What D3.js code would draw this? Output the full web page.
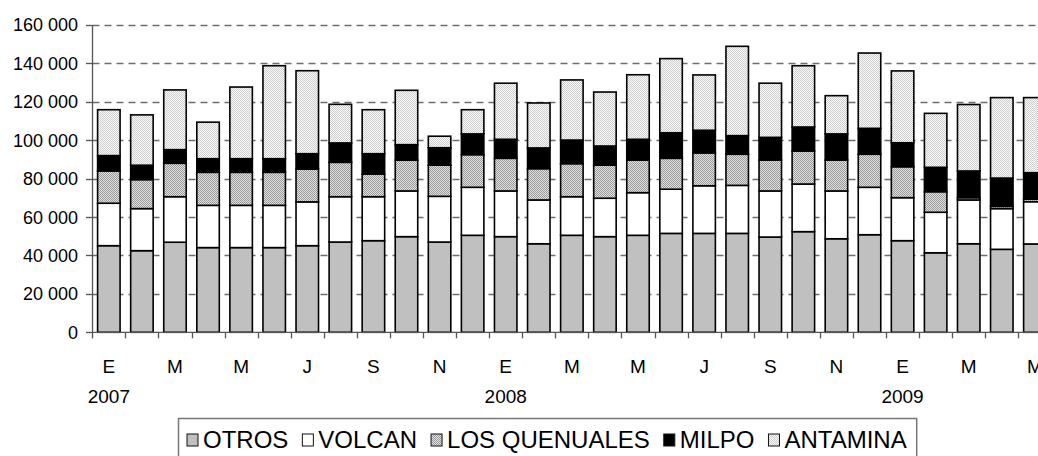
<!DOCTYPE html>
<html>
<head>
<meta charset="utf-8">
<script src="https://cdn.jsdelivr.net/npm/d3@7"></script>
<style>
  body { margin: 0; background: #fff; }
  svg { display: block; overflow: hidden; font-family: "Liberation Sans", Arial, sans-serif; }
</style>
</head>
<body>
<svg id="chart" width="1038" height="456"></svg>
<script>
// meses ene-2007 .. may-2009
const months = ['E','F','M','A','M','J','J','A','S','O','N','D',
                'E','F','M','A','M','J','J','A','S','O','N','D',
                'E','F','M','A','M'];
const years = [{ idx: 0, label: '2007' }, { idx: 12, label: '2008' }, { idx: 24, label: '2009' }];
const yTicks = [0, 20000, 40000, 60000, 80000, 100000, 120000, 140000, 160000];

const seriesNames = ['OTROS', 'VOLCAN', 'LOS QUENUALES', 'MILPO', 'ANTAMINA'];

const otros = [45100, 42500, 46900, 44100, 44100, 44100, 45100, 47000, 47700, 49800, 47000, 50500,
               49800, 46100, 50500, 49800, 50500, 51500, 51500, 51500, 49600, 52400, 48700, 50800,
               47700, 41400, 46100, 43200, 46000];
const volcan = [22100, 21900, 23700, 22000, 22000, 22000, 22800, 23600, 22900, 23800, 23800, 25000,
                23800, 22800, 20100, 20000, 22200, 23000, 24800, 25000, 24000, 24800, 24900, 24700,
                22400, 21100, 22800, 21200, 22000];
const quenuales = [16800, 15100, 17400, 17200, 17200, 17200, 17100, 17900, 11800, 16000, 16200, 17000,
                   17000, 16300, 17200, 17200, 17000, 16100, 17100, 16200, 16100, 17200, 16100, 17200,
                   16100, 10700, 1200, 1200, 1300];
const milpo = [8000, 7500, 7100, 7100, 7100, 7100, 8000, 10100, 10600, 8100, 9100, 10800,
               9900, 10800, 12300, 10000, 10800, 13300, 11800, 9700, 11800, 12500, 13600, 13500,
               12500, 12700, 13900, 14700, 13800];
const antamina = [23900, 26200, 31100, 19000, 37300, 48400, 43200, 20100, 22900, 28300, 6000, 12600,
                  29200, 23400, 31300, 28100, 33600, 38600, 28800, 46500, 28200, 31900, 19900, 39200,
                  37400, 28100, 34600, 41900, 39100];

const svg = d3.select('#chart');

// patrones de relleno
const defs = svg.append('defs');
function dotPattern(id, bg, fg) {
    const p = defs.append('pattern')
        .attr('id', id)
        .attr('patternUnits', 'userSpaceOnUse')
        .attr('width', 2).attr('height', 2);
    p.append('rect').attr('width', 2).attr('height', 2).attr('fill', bg);
    p.append('rect').attr('width', 1).attr('height', 1).attr('fill', fg);
    p.append('rect').attr('x', 1).attr('y', 1).attr('width', 1).attr('height', 1).attr('fill', fg);
}
dotPattern('pat-quen', '#e2e2e2', '#989898');
dotPattern('pat-anta', '#fafafa', '#cdcdcd');

const fills = ['#c0c0c0', '#ffffff', 'url(#pat-quen)', '#000000', 'url(#pat-anta)'];

const table = months.map((m, i) => ({
    i: i,
    'OTROS': otros[i],
    'VOLCAN': volcan[i],
    'LOS QUENUALES': quenuales[i],
    'MILPO': milpo[i],
    'ANTAMINA': antamina[i]
}));

const x = d3.scaleBand()
    .domain(d3.range(months.length))
    .range([92.3, 1051.4])
    .paddingInner(0.32)
    .paddingOuter(0.16);

const y = d3.scaleLinear()
    .domain([0, 160000])
    .range([332.3, 25]);

const fmt = v => d3.format(',')(v).replace(/,/g, ' ');

// lineas de cuadricula
svg.append('g')
    .selectAll('line')
    .data(yTicks.filter(v => v > 0))
    .enter()
    .append('line')
    .attr('x1', 92.5).attr('x2', 1038)
    .attr('y1', d => Math.round(y(d)) + 0.5)
    .attr('y2', d => Math.round(y(d)) + 0.5)
    .style('stroke', '#6e6e6e')
    .style('stroke-width', '1.3px')
    .style('stroke-dasharray', '7,5');

// barras apiladas
const stack = d3.stack().keys(seriesNames)(table);

svg.append('g')
    .selectAll('g')
    .data(stack)
    .enter()
    .append('g')
    .attr('fill', (d, k) => fills[k])
    .selectAll('rect')
    .data(d => d)
    .enter()
    .append('rect')
    .attr('x', d => x(d.data.i))
    .attr('width', x.bandwidth())
    .attr('y', d => y(d[1]))
    .attr('height', d => y(d[0]) - y(d[1]))
    .style('stroke', '#000')
    .style('stroke-width', '1.6px');

// eje Y
const yAxis = svg.append('g');
yAxis.append('line')
    .attr('x1', 92.5).attr('x2', 92.5)
    .attr('y1', y(160000)).attr('y2', y(0))
    .style('stroke', '#555').style('stroke-width', '1.3px');
yAxis.selectAll('.ytick')
    .data(yTicks)
    .enter()
    .append('line')
    .attr('x1', 86).attr('x2', 92.5)
    .attr('y1', d => Math.round(y(d)) + 0.5)
    .attr('y2', d => Math.round(y(d)) + 0.5)
    .style('stroke', '#555').style('stroke-width', '1.3px');
yAxis.selectAll('text')
    .data(yTicks)
    .enter()
    .append('text')
    .attr('x', 78)
    .attr('y', d => y(d))
    .attr('dy', '0.36em')
    .attr('text-anchor', 'end')
    .style('font-size', '18px')
    .style('fill', '#000')
    .text(fmt);

// eje X
const xAxis = svg.append('g');
xAxis.append('line')
    .attr('x1', 92.5).attr('x2', 1038)
    .attr('y1', y(0)).attr('y2', y(0))
    .style('stroke', '#555').style('stroke-width', '1.3px');
xAxis.selectAll('.xtick')
    .data(d3.range(months.length + 1))
    .enter()
    .append('line')
    .attr('x1', i => Math.round(x.range()[0] + i * x.step()) + 0.5)
    .attr('x2', i => Math.round(x.range()[0] + i * x.step()) + 0.5)
    .attr('y1', y(0)).attr('y2', y(0) + 6)
    .style('stroke', '#555').style('stroke-width', '1.3px');
xAxis.selectAll('.mlabel')
    .data(months.map((m, i) => ({ m, i })).filter(d => d.i % 2 === 0))
    .enter()
    .append('text')
    .attr('x', d => x(d.i) + x.bandwidth() / 2)
    .attr('y', 373)
    .attr('text-anchor', 'middle')
    .style('font-size', '19px')
    .style('fill', '#000')
    .text(d => d.m);
xAxis.selectAll('.ylabel')
    .data(years)
    .enter()
    .append('text')
    .attr('x', d => x(d.idx) + x.bandwidth() / 2)
    .attr('y', 403)
    .attr('text-anchor', 'middle')
    .style('font-size', '19px')
    .style('fill', '#000')
    .text(d => d.label);

// leyenda
const legend = svg.append('g');
const box = legend.append('rect')
    .attr('x', 178.5).attr('y', 418.5)
    .attr('height', 50)
    .style('fill', '#fff')
    .style('stroke', '#777')
    .style('stroke-width', '1.5px');
let lx = 187;
seriesNames.forEach((name, k) => {
    legend.append('rect')
        .attr('x', lx).attr('y', 434)
        .attr('width', 11).attr('height', 12)
        .attr('fill', fills[k])
        .style('stroke', '#111')
        .style('stroke-width', '1px');
    const t = legend.append('text')
        .attr('x', lx + 16)
        .attr('y', 448)
        .style('font-size', '24px')
        .style('fill', '#000')
        .text(name);
    lx += 16 + t.node().getComputedTextLength() + 14;
});
box.attr('width', lx - 178.5 - 4);
</script>
</body>
</html>
